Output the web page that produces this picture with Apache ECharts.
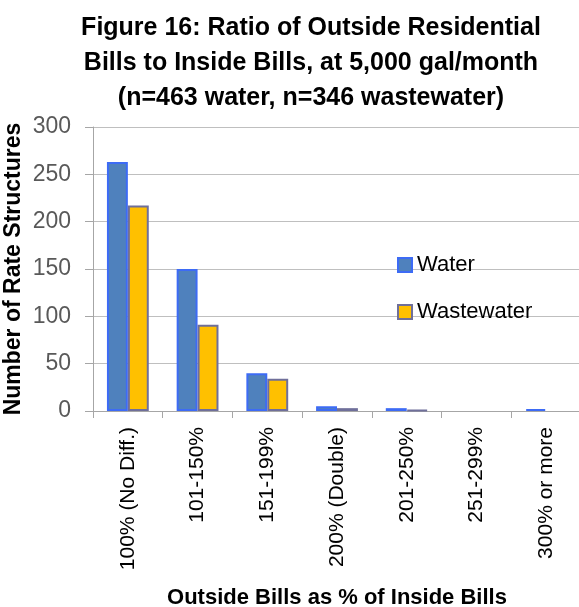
<!DOCTYPE html>
<html><head><meta charset="utf-8">
<script src="https://cdn.jsdelivr.net/npm/echarts@6/dist/echarts.min.js"></script>
<style>html,body{margin:0;padding:0;background:#fff}#c{width:579px;height:607px}</style>
</head><body><div id="c"></div>
<script>
const categories = ['100% (No Diff.)', '101-150%', '151-199%', '200% (Double)', '201-250%', '251-299%', '300% or more'];
const water = [263, 150, 40, 5, 3, 0, 2];
const wastewater = [217, 91, 34, 3, 1, 0, 0];
const yTicks = [0, 50, 100, 150, 200, 250, 300];

// zero-count bars are not drawn (no border stub)
const barData = arr => arr.map(v => (v === 0 ? null : v));

const chart = echarts.init(document.getElementById('c'), null, {renderer: 'canvas'});
const font = 'Liberation Sans';
chart.setOption({
  animation: false,
  backgroundColor: '#fff',
  title: {
    text: 'Figure 16: Ratio of Outside Residential\nBills to Inside Bills, at 5,000 gal/month\n(n=463 water, n=346 wastewater)',
    left: 306, top: 6, textAlign: 'center',
    textStyle: {fontFamily: font, fontWeight: 'bold', fontSize: 25, lineHeight: 35, color: '#000'}
  },
  legend: {
    orient: 'vertical', left: 392, top: 249, itemGap: 25,
    itemWidth: 14, itemHeight: 14, icon: 'rect',
    textStyle: {fontFamily: font, fontSize: 22, color: '#000', padding: [0, 0, 0, 0]},
    data: ['Water', 'Wastewater']
  },
  grid: {left: 93, right: -2, top: 127, bottom: 196, containLabel: false, outerBoundsMode: 'none'},
  xAxis: {
    type: 'category', data: categories,
    name: 'Outside Bills as % of Inside Bills', nameLocation: 'middle', nameGap: 176,
    nameMoveOverlap: false,
    nameTextStyle: {fontFamily: font, fontWeight: 'bold', fontSize: 22, color: '#000'},
    axisLine: {lineStyle: {color: '#A6A6A6', width: 1}},
    axisTick: {show: true, length: 7, lineStyle: {color: '#A6A6A6'}},
    axisLabel: {rotate: 90, fontFamily: font, fontSize: 21, color: '#000', margin: 16, interval: 0}
  },
  yAxis: {
    type: 'value', min: 0, max: 300, interval: 50,
    name: 'Number of Rate Structures', nameLocation: 'middle', nameGap: 68,
    nameMoveOverlap: false,
    nameTextStyle: {fontFamily: font, fontWeight: 'bold', fontSize: 23, color: '#000'},
    axisLine: {show: true, lineStyle: {color: '#A6A6A6'}},
    axisTick: {show: true, length: 8, lineStyle: {color: '#A6A6A6'}},
    axisLabel: {fontFamily: font, fontSize: 23, color: '#595959', margin: 22,
      formatter: v => yTicks.includes(v) ? String(v) : ''},
    splitLine: {lineStyle: {color: '#BFBFBF', width: 1}}
  },
  series: [
    {name: 'Water', type: 'bar', data: barData(water), barGap: '0%', barCategoryGap: '40%',
     itemStyle: {color: '#4F81BD', borderColor: '#3D6BF5', borderWidth: 2}},
    {name: 'Wastewater', type: 'bar', data: barData(wastewater),
     itemStyle: {color: '#FFC000', borderColor: '#6F6F9A', borderWidth: 2}}
  ]
});
</script></body></html>
